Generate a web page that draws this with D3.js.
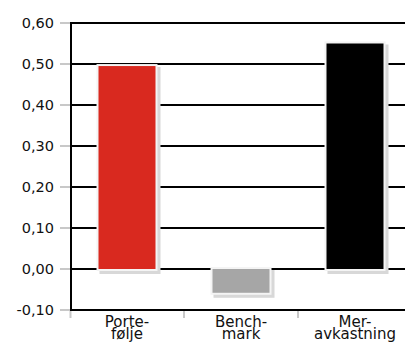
<!DOCTYPE html>
<html><head><meta charset="utf-8">
<script src="https://cdn.jsdelivr.net/npm/d3@7"></script>
<style>body{margin:0;background:#fff}svg{display:block}text{font-family:"DejaVu Sans",sans-serif;fill:#111}</style>
</head><body>
<script>
const categories = [["Porte-","følje"],["Bench-","mark"],["Mer-","avkastning"]];
const values = [0.495, -0.058, 0.55];
const colors = ["#d9291f","#a6a6a6","#000000"];
const yTicks = [-0.1,0,0.1,0.2,0.3,0.4,0.5,0.6];

const W=405,H=343;
const svg=d3.select("body").append("svg").attr("width",W).attr("height",H);
const y=d3.scaleLinear().domain([-0.1,0.6]).range([310,23]);
const x=d3.scaleBand().domain(d3.range(categories.length)).range([70,412]).paddingInner(0.5).paddingOuter(0.25);
const fmt=v=>d3.format(".2f")(v).replace(".",",").replace("−","-");

// gridlines
svg.append("g").selectAll("line").data(yTicks.filter(v=>v>-0.1)).join("line")
 .attr("x1",71).attr("x2",W).attr("y1",d=>y(d)).attr("y2",d=>y(d))
 .attr("stroke","#000").attr("stroke-width",2);
// tick marks
svg.append("g").selectAll("line").data(yTicks).join("line")
 .attr("x1",60).attr("x2",70).attr("y1",d=>y(d)).attr("y2",d=>y(d))
 .attr("stroke","#c8c8c8").attr("stroke-width",2);
svg.append("g").selectAll("text").data(yTicks).join("text")
 .attr("x",54).attr("y",d=>y(d)).attr("dy","0.35em").attr("text-anchor","end")
 .attr("font-size",14.5).text(fmt);
// bottom ticks
const seps=[x.range()[0]+0.5, ...d3.range(1,categories.length).map(i=>x(i)-x.step()*x.paddingInner()/2)];
svg.append("g").selectAll("line").data(seps).join("line")
 .attr("x1",d=>d).attr("x2",d=>d).attr("y1",311).attr("y2",318)
 .attr("stroke","#c8c8c8").attr("stroke-width",2);

// bars
const bw=x.bandwidth();
const g=svg.append("g");
values.forEach((v,i)=>{
  const y0=Math.min(y(v),y(0)), h=Math.abs(y(v)-y(0));
  g.append("rect").attr("x",x(i)+1).attr("y",y0+1).attr("width",bw+4).attr("height",h+4).attr("fill","#d8d8d8");
  g.append("rect").attr("x",x(i)-2).attr("y",y0-2).attr("width",bw+4).attr("height",h+4).attr("fill","#f4f4f4");
  g.append("rect").attr("x",x(i)).attr("y",y0).attr("width",bw).attr("height",h).attr("fill",colors[i]);
});

// axes lines
svg.append("line").attr("x1",71).attr("x2",71).attr("y1",22).attr("y2",311).attr("stroke","#000").attr("stroke-width",2);
svg.append("line").attr("x1",70).attr("x2",W).attr("y1",310).attr("y2",310).attr("stroke","#000").attr("stroke-width",2);

// category labels
svg.append("g").selectAll("text").data(categories).join("text")
 .attr("text-anchor","middle").attr("font-size",15)
 .attr("transform",(d,i)=>`translate(${x(i)+bw/2},0)`)
 .each(function(d){
   const t=d3.select(this);
   d.forEach((s,j)=>t.append("tspan").attr("x",0).attr("y",326.5+j*12).text(s));
 });
</script>
</body></html>
